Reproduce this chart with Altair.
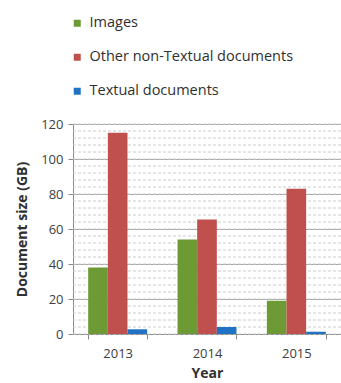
import altair as alt
import pandas as pd

years = ["2013", "2014", "2015"]
series = ["Images", "Other non-Textual documents", "Textual documents"]
images = [38, 54, 19]
other = [115, 65.5, 83]
textual = [2.7, 4, 1.3]
colors = ["#6E9A35", "#C0504D", "#1F72C4"]
minor_ticks = list(range(0, 121, 4))
major_ticks = list(range(0, 121, 20))

rows = []
for i, y in enumerate(years):
    for s, vals in zip(series, [images, other, textual]):
        rows.append({"Year": y, "Series": s, "Size": vals[i]})
df = pd.DataFrame(rows)

FONT = "Open Sans"
yscale = alt.Scale(domain=[0, 120])
yaxis = alt.Axis(values=major_ticks, grid=True, gridColor="#a6a6a6",
                 domainColor="#888", tickColor="#888", tickSize=5,
                 labelFontSize=13, labelColor="#404040", labelPadding=5,
                 titleFontSize=14, titleFontWeight="bold", titleColor="#303030",
                 titlePadding=11, labelFont=FONT, titleFont=FONT)
YTITLE = "Document size (GB)"

minor = alt.Chart(pd.DataFrame({"v": minor_ticks})).mark_rule(
    color="#cccccc", strokeDash=[3, 2], strokeWidth=1
).encode(y=alt.Y("v:Q", scale=yscale, axis=yaxis, title=YTITLE))

bars = alt.Chart(df).mark_bar().encode(
    x=alt.X("Year:N", title="Year",
            scale=alt.Scale(paddingInner=0.34, paddingOuter=0.17),
            axis=alt.Axis(labelAngle=0, tickBand="extent", tickSize=5,
                          domainColor="#888", tickColor="#888",
                          labelFontSize=13, labelColor="#404040", labelPadding=8,
                          titleFontSize=14, titleFontWeight="bold",
                          titleColor="#303030", titlePadding=6, labelFont=FONT, titleFont=FONT)),
    xOffset=alt.XOffset("Series:N", sort=series, scale=alt.Scale(paddingInner=0, paddingOuter=0)),
    y=alt.Y("Size:Q", title=YTITLE, scale=yscale, axis=yaxis),
    color=alt.Color("Series:N", sort=series,
                    scale=alt.Scale(domain=series, range=colors),
                    legend=alt.Legend(title=None, orient="none", legendX=-3, legendY=-108,
                                      symbolType="square", symbolSize=49,
                                      symbolStrokeWidth=0, labelFontSize=14.5,
                                      labelColor="#303030", labelFont=FONT, labelLimit=0,
                                      rowPadding=19, labelOffset=5)),
)

chart = alt.layer(minor, bars).properties(
    width=268, height=210,
    padding={"left": 73, "top": 124, "right": 0, "bottom": 49},
    autosize=alt.AutoSizeParams(type="none"),
).configure_view(stroke=None).configure(background="white")

chart.save("out.html", embed_options={"renderer": "svg", "actions": False})
